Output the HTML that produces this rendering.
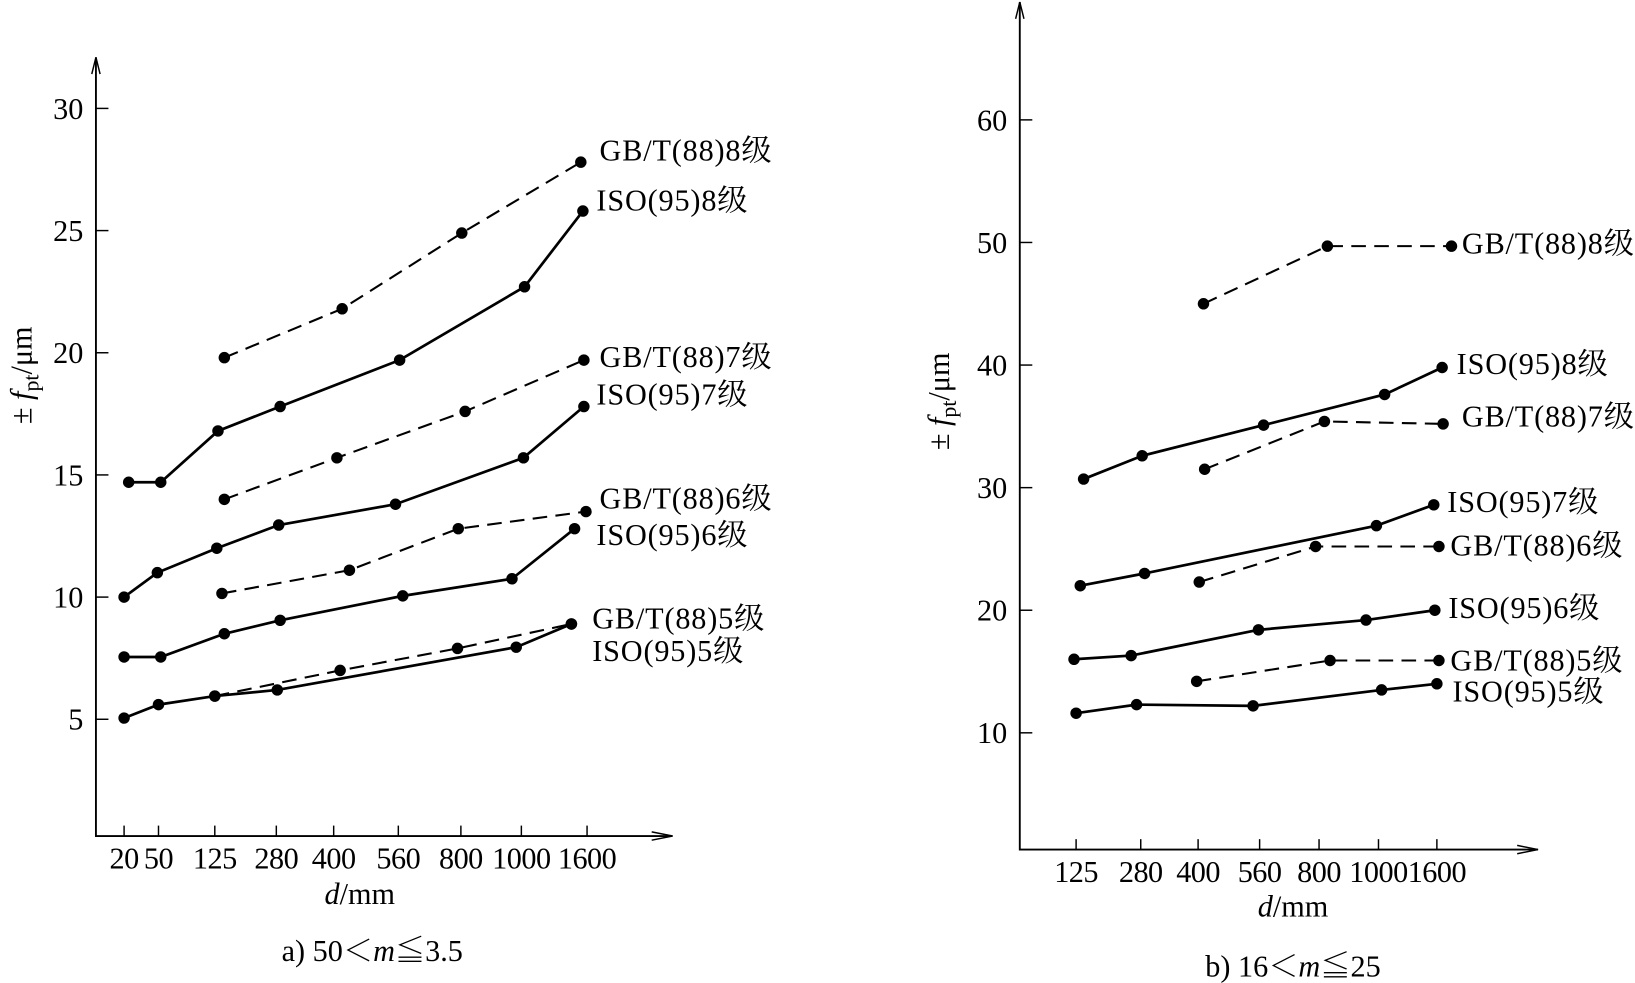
<!DOCTYPE html>
<html><head><meta charset="utf-8"><style>
html,body{margin:0;padding:0;background:#fff;}
svg{display:block;font-family:"Liberation Serif","Noto Serif CJK SC",serif;}
</style></head><body>
<svg id="chart" width="1635" height="983" viewBox="0 0 1568 943" preserveAspectRatio="none" xmlns="http://www.w3.org/2000/svg"></svg>
<script>
// ---- Chart a data ----
const aTickD = [20,50,125,280,400,560,800,1000,1600];
const aTickY = [5,10,15,20,25,30];
const aGB8x = [149,421,803,1543], aGB8y = [19.8,21.8,24.9,27.8];
const aISO8x = [24,53,133,288,565,1029,1562], aISO8y = [14.7,14.7,16.8,17.8,19.7,22.7,25.8];
const aGB7x = [149,408,814,1571], aGB7y = [14.0,15.7,17.6,19.7];
const aISO7x = [20,49,130,285,553,1019,1571], aISO7y = [10.0,11.0,12.0,12.95,13.8,15.7,17.8];
const aGB6x = [143,439,790,1590], aGB6y = [10.15,11.1,12.8,13.5];
const aISO6x = [20,53,149,288,577,969,1486], aISO6y = [7.55,7.55,8.5,9.05,10.05,10.75,12.8];
const aGB5x = [125,416,787,1457], aGB5y = [5.95,7.0,7.9,8.9];
const aISO5x = [20,50,125,282,983,1457], aISO5y = [5.05,5.6,5.95,6.2,7.95,8.9];
// ---- Chart b data ----
const bTickD = [125,280,400,560,800,1000,1600];
const bTickY = [10,20,30,40,50,60];
const bGB8x = [414,828,1750], bGB8y = [45,49.7,49.7];
const bISO8x = [143,283,576,1063,1654], bISO8y = [30.7,32.6,35.1,37.6,39.8];
const bGB7x = [417,818,1664], bGB7y = [31.5,35.4,35.2];
const bISO7x = [135,288,993,1568], bISO7y = [22.0,23.0,26.9,28.6];
const bGB6x = [403,786,1621], bGB6y = [22.3,25.2,25.2];
const bISO6x = [120,257,557,958,1579], bISO6y = [16.0,16.3,18.4,19.2,20.0];
const bGB5x = [397,837,1621], bGB5y = [14.2,15.9,15.9];
const bISO5x = [125,270,543,1032,1600], bISO5y = [11.6,12.3,12.2,13.5,14.0];

const NS="http://www.w3.org/2000/svg", svg=document.getElementById('chart');
function mk(tag,attrs,parent){const e=document.createElementNS(NS,tag);for(const k in attrs)e.setAttribute(k,attrs[k]);(parent||svg).appendChild(e);return e;}
function interp(d,ticks,px){
  let i=0; while(i<ticks.length-2 && d>ticks[i+1]) i++;
  return px[i]+(d-ticks[i])/(ticks[i+1]-ticks[i])*(px[i+1]-px[i]);
}
function txt(x,y,s,size,anchor,name){const t=mk('text',{x:x,y:y,'font-size':size,'text-anchor':anchor||'start'});t.textContent=s;


return t;}

function chart(cfg){
  const g=mk('g',{});
  
  
  const X=d=>interp(d,cfg.tickD,cfg.tickPx);
  const Y=v=>cfg.y0+(v-cfg.v0)*cfg.k;
  const ax=mk('path',{d:`M${cfg.ax},${cfg.top} L${cfg.ax},${cfg.base} L${cfg.right},${cfg.base}`,stroke:'#000','stroke-width':1.8,fill:'none'},g);
  
  
  mk('path',{d:`M${cfg.ax-4},${cfg.top+16} L${cfg.ax},${cfg.top} L${cfg.ax+4},${cfg.top+16}`,stroke:'#000','stroke-width':1.4,fill:'none'},g);
  mk('path',{d:`M${cfg.right-20},${cfg.base-4} L${cfg.right},${cfg.base} L${cfg.right-20},${cfg.base+4}`,stroke:'#000','stroke-width':1.4,fill:'none'},g);
  cfg.tickY.forEach(v=>{
    mk('line',{x1:cfg.ax,x2:cfg.ax+12,y1:Y(v),y2:Y(v),stroke:'#000','stroke-width':1.4},g);
    const t=txt(cfg.ax-12,Y(v)+10,String(v),29,'end','y-tick-label');
    g.appendChild(t);
  });
  cfg.tickD.forEach((d,i)=>{
    const x=cfg.tickPx[i];
    mk('line',{x1:x,x2:x,y1:cfg.base,y2:cfg.base-10,stroke:'#000','stroke-width':1.4},g);
    const t=txt(x,cfg.base+31,String(d),29,'middle','x-tick-label');
    t.setAttribute('letter-spacing','-0.5');
    g.appendChild(t);
  });
  cfg.series.forEach(s=>{
    const pts=s.x.map((d,i)=>[X(d),Y(s.y[i])]);
    const p=mk('polyline',{points:pts.map(p=>p.join(',')).join(' '),fill:'none',stroke:'#000','stroke-width':s.dash?2:2.6},g);
    if(s.dash)p.setAttribute('stroke-dasharray','14,8');
    
    
    pts.forEach(q=>{const c=mk('circle',{cx:q[0],cy:q[1],r:5.5,fill:'#000'},g);
      
      });
    const l=txt(s.lx,s.ly,s.label,29,'start',s.name+'-label');
    l.setAttribute('letter-spacing','0.8');
    g.appendChild(l);
  });
  return g;
}

chart({name:'chart-a',ax:92,top:55,base:802,right:645,tickD:aTickD,tickPx:[119,152,206,265,320,382,442,500,563],
  tickY:aTickY,y0:690,v0:5,k:-23.44,series:[
  {name:'gb8',x:aGB8x,y:aGB8y,dash:true,label:'GB/T(88)8级',lx:575,ly:154},
  {name:'iso8',x:aISO8x,y:aISO8y,dash:false,label:'ISO(95)8级',lx:572,ly:202},
  {name:'gb7',x:aGB7x,y:aGB7y,dash:true,label:'GB/T(88)7级',lx:575,ly:352},
  {name:'iso7',x:aISO7x,y:aISO7y,dash:false,label:'ISO(95)7级',lx:572,ly:388},
  {name:'gb6',x:aGB6x,y:aGB6y,dash:true,label:'GB/T(88)6级',lx:575,ly:488},
  {name:'iso6',x:aISO6x,y:aISO6y,dash:false,label:'ISO(95)6级',lx:572,ly:523},
  {name:'gb5',x:aGB5x,y:aGB5y,dash:true,label:'GB/T(88)5级',lx:568,ly:603},
  {name:'iso5',x:aISO5x,y:aISO5y,dash:false,label:'ISO(95)5级',lx:568,ly:634}]});

chart({name:'chart-b',ax:978,top:2,base:815,right:1475,tickD:bTickD,tickPx:[1032,1094,1149,1208,1265,1322,1378],
  tickY:bTickY,y0:703,v0:10,k:-11.76,series:[
  {name:'gb8',x:bGB8x,y:bGB8y,dash:true,label:'GB/T(88)8级',lx:1402,ly:243},
  {name:'iso8',x:bISO8x,y:bISO8y,dash:false,label:'ISO(95)8级',lx:1397,ly:359},
  {name:'gb7',x:bGB7x,y:bGB7y,dash:true,label:'GB/T(88)7级',lx:1402,ly:409},
  {name:'iso7',x:bISO7x,y:bISO7y,dash:false,label:'ISO(95)7级',lx:1388,ly:491},
  {name:'gb6',x:bGB6x,y:bGB6y,dash:true,label:'GB/T(88)6级',lx:1391,ly:533},
  {name:'iso6',x:bISO6x,y:bISO6y,dash:false,label:'ISO(95)6级',lx:1389,ly:593},
  {name:'gb5',x:bGB5x,y:bGB5y,dash:true,label:'GB/T(88)5级',lx:1391,ly:643},
  {name:'iso5',x:bISO5x,y:bISO5y,dash:false,label:'ISO(95)5级',lx:1393,ly:673}]});

function axisTitles(x,y,name){
  const t=mk('text',{transform:`translate(${x},${y}) rotate(-90)`,'font-size':29,'text-anchor':'middle'});
  
  
  t.innerHTML='± <tspan font-style="italic">f</tspan><tspan font-size="21" dy="7">pt</tspan><tspan dy="-7">/μm</tspan>';
}
axisTitles(30,360,'y-axis-title-a');
axisTitles(910,385,'y-axis-title-b');
function dmm(x,y,name){const t=mk('text',{x:x,y:y,'font-size':29,'text-anchor':'middle'});
  
  
  t.innerHTML='<tspan font-style="italic">d</tspan>/mm';}
dmm(345,867,'x-axis-title-a');
dmm(1240,879,'x-axis-title-b');
function cap(x,y,a,b,name){const t=mk('text',{x:x,y:y,'font-size':29,'text-anchor':'middle'});
  
  
  t.innerHTML=a+'<tspan font-style="italic">m</tspan>'+b;}
cap(357,922,'a) 50＜','≦3.5','caption-a');
cap(1240,937,'b) 16＜','≦25','caption-b');
</script>
</body></html>
